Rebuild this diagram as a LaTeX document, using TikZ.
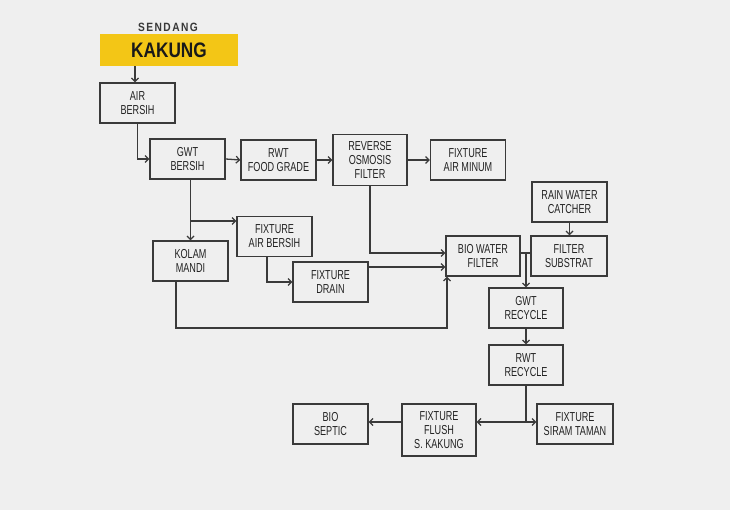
\documentclass[tikz,border=0pt]{standalone}
\usepackage{fontspec}
\setmainfont{Liberation Sans}[FakeStretch=0.70]
\newfontfamily\headfont{Liberation Sans}[FakeStretch=0.82]
\newfontfamily\spacedfont{Liberation Sans}[FakeStretch=0.85,LetterSpace=12]
\usetikzlibrary{arrows.meta}

\definecolor{bgcol}{RGB}{239,239,239}
\definecolor{linecol}{RGB}{58,58,58}
\definecolor{textcol}{RGB}{34,34,34}
\definecolor{kakyellow}{RGB}{243,198,22}

\tikzset{
  box/.style={draw=linecol, line width=1.3pt, inner sep=0pt, align=center,
    minimum width=75pt, minimum height=40pt, text=textcol,
    font=\fontsize{13}{14}\selectfont},
  flow/.style={draw=linecol, line width=1.3pt,
    -{Straight Barb[length=3.5pt,width=7pt,line width=1.2pt]}},
  plain/.style={draw=linecol, line width=1.3pt}
}

\begin{document}
\begin{tikzpicture}[x=1pt,y=-1pt]
  % page background
  \fill[bgcol] (0,0) rectangle (730,510);
  \useasboundingbox (0,0) rectangle (730,510);

  % title
  \node (sendang) at (168,27) {\spacedfont\bfseries\fontsize{12}{13}\selectfont\color{textcol!90}SENDANG};
  \node[fill=kakyellow, minimum width=138pt, minimum height=32pt, inner sep=0pt,
        font=\headfont\bfseries\fontsize{21}{22}\selectfont, text=black!90]
        (kakung) at (169,50) {KAKUNG};

  % process boxes
  \node[box] (air)    at (137.5,103) {AIR\\BERSIH};
  \node[box] (gwt)    at (187.5,159) {GWT\\BERSIH};
  \node[box] (rwtf)   at (278.5,160) {RWT\\FOOD GRADE};
  \node[box, minimum width=74pt, minimum height=51pt] (ro) at (370,160) {REVERSE\\OSMOSIS\\FILTER};
  \node[box] (minum)  at (468,160) {FIXTURE\\AIR MINUM};
  \node[box] (rain)   at (569.5,202) {RAIN WATER\\CATCHER};
  \node[box] (fab)    at (274.5,236.5) {FIXTURE\\AIR BERSIH};
  \node[box] (kolam)  at (190.5,261) {KOLAM\\MANDI};
  \node[box, minimum width=74pt] (bwf) at (483,256) {BIO WATER\\FILTER};
  \node[box, minimum width=76pt] (subs) at (569,256) {FILTER\\SUBSTRAT};
  \node[box] (drain)  at (330.5,282) {FIXTURE\\DRAIN};
  \node[box, minimum width=74pt] (gwtr) at (526,308) {GWT\\RECYCLE};
  \node[box, minimum width=74pt] (rwtr) at (526,365) {RWT\\RECYCLE};
  \node[box] (septic) at (330.5,424) {BIO\\SEPTIC};
  \node[box, minimum width=74pt, minimum height=52pt] (flush) at (439,430) {FIXTURE\\FLUSH\\S. KAKUNG};
  \node[box, minimum width=76pt] (siram) at (575,424) {FIXTURE\\SIRAM TAMAN};

  % junction points
  \coordinate (br) at (190.5,221);
  \coordinate (bj) at (526,253);
  \coordinate (jn) at (526,422);

  % clean water line
  \draw[flow] (kakung.south -| 135,0) -- (air.north -| 135,0);
  \draw[flow] (air.south) |- (gwt.west);
  \draw[flow] (gwt.east) -- (rwtf.west);
  \draw[flow] (rwtf.east) -- (ro.west);
  \draw[flow] (ro.east) -- (minum.west);
  \draw[flow] (gwt.south -| kolam.north) -- (kolam.north);
  \draw[flow] (br) -- (br -| fab.west);
  \draw[flow] ([xshift=-7.5pt]fab.south) |- (drain.west);

  % grey water to the bio filter
  \draw[flow] ([yshift=15pt]drain.east) -- ([yshift=15pt]drain.east -| bwf.west);
  \draw[flow] (ro.south) |- ([yshift=3pt]bwf.west);
  \draw[flow] ([xshift=-14.5pt]kolam.south) -- (176,328) -- (447,328) -- (bwf.south -| 447,0);

  % rain water and recycling
  \draw[flow] (rain.south) -- (rain.south |- subs.north);
  \draw[plain] ([yshift=3pt]bwf.east) -- ([yshift=3pt]subs.west);
  \draw[flow] (bj) -- (gwtr.north);
  \draw[flow] (gwtr.south) -- (rwtr.north);
  \draw[plain] (rwtr.south) -- (jn);
  \draw[flow] (jn) -- (jn -| siram.west);
  \draw[flow] (jn) -- (jn -| flush.east);
  \draw[flow] (flush.west |- jn) -- (septic.east |- jn);
\end{tikzpicture}
\end{document}
